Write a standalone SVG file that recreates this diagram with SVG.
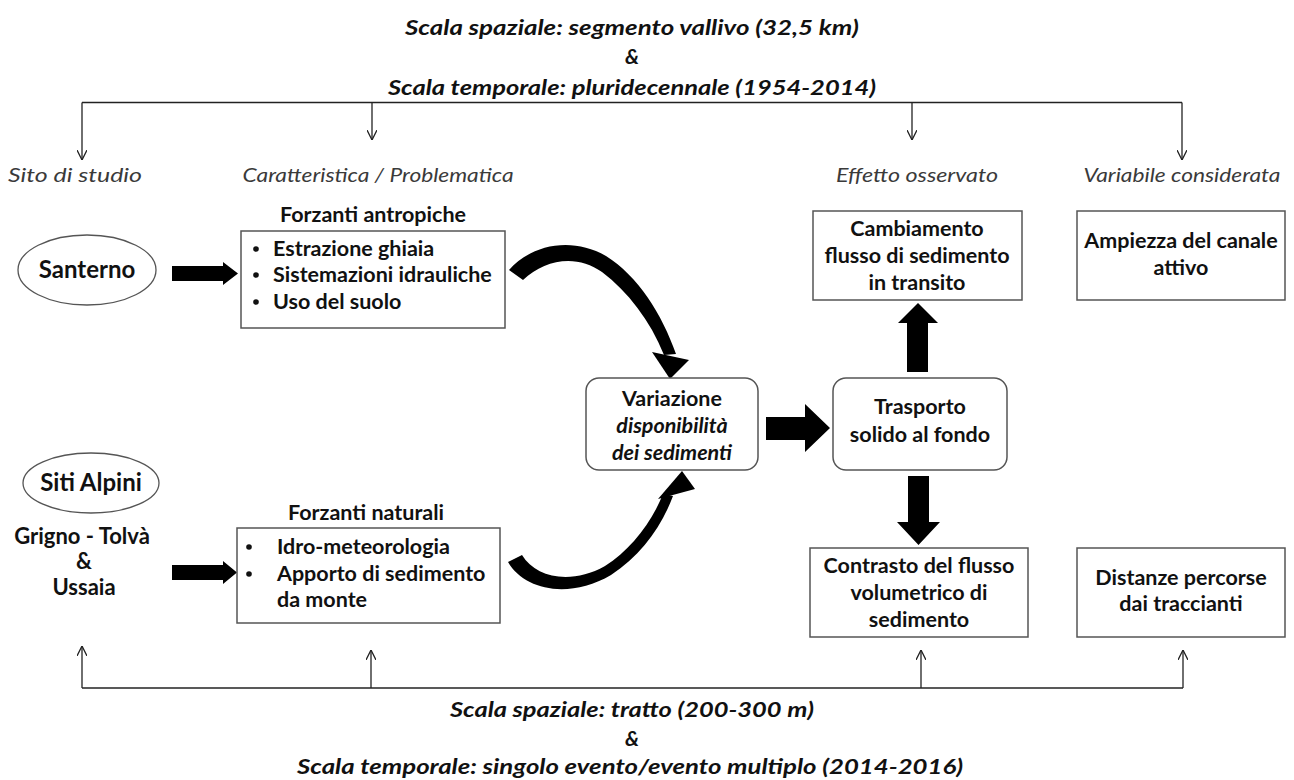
<svg xmlns="http://www.w3.org/2000/svg" width="1294" height="780" viewBox="0 0 1294 780">
<style>
text{font-family:Lato,"Open Sans","Liberation Sans",sans-serif;fill:#111}
.title{font-size:21px;font-weight:bold;font-style:italic;text-anchor:middle}
.cat{font-size:20px;font-style:italic;text-anchor:middle;fill:#3a3a3a}
.lbl{font-size:21.5px;font-weight:bold;text-anchor:middle}
.lbli{font-size:21.5px;font-weight:bold;font-style:italic;text-anchor:middle}
.bul{font-size:21.5px;font-weight:bold}
.big{font-size:22px;font-weight:bold;text-anchor:middle}
.ebig{font-size:24px;font-weight:bold;text-anchor:middle}
.box{fill:#fff;stroke:#555;stroke-width:1.5}
.ell{fill:#fff;stroke:#555;stroke-width:1.3}
.thin{fill:none;stroke:#222;stroke-width:1.3}
.blk{fill:#000;stroke:none}
.dot{fill:#111}
</style>
<defs>
<marker id="open" viewBox="0 0 10 10" refX="10" refY="5" markerWidth="10" markerHeight="10" markerUnits="userSpaceOnUse" orient="auto">
<path d="M0,0 L10,5 L0,10" fill="none" stroke="#222" stroke-width="1.3"/>
</marker>
</defs>

<g id="titles">
<text class="title" x="632" y="35" textLength="454" lengthAdjust="spacingAndGlyphs">Scala spaziale: segmento vallivo (32,5 km)</text>
<text class="title" x="632" y="64">&amp;</text>
<text class="title" x="632" y="95" textLength="488" lengthAdjust="spacingAndGlyphs">Scala temporale: pluridecennale (1954-2014)</text>
<text class="title" x="632" y="717" textLength="364" lengthAdjust="spacingAndGlyphs">Scala spaziale: tratto (200-300 m)</text>
<text class="title" x="632" y="746">&amp;</text>
<text class="title" x="630" y="774" textLength="666" lengthAdjust="spacingAndGlyphs">Scala temporale: singolo evento/evento multiplo (2014-2016)</text>
</g>

<g id="categories">
<text class="cat" x="75" y="182" textLength="134" lengthAdjust="spacingAndGlyphs">Sito di studio</text>
<text class="cat" x="378" y="182" textLength="271" lengthAdjust="spacingAndGlyphs">Caratteristica / Problematica</text>
<text class="cat" x="917" y="182" textLength="162" lengthAdjust="spacingAndGlyphs">Effetto osservato</text>
<text class="cat" x="1182" y="182" textLength="197" lengthAdjust="spacingAndGlyphs">Variabile considerata</text>
</g>

<g id="connectors">
<path class="thin" d="M82,102.5 H1182"/>
<path class="thin" d="M82,102.5 V160" marker-end="url(#open)"/>
<path class="thin" d="M372,102.5 V140" marker-end="url(#open)"/>
<path class="thin" d="M912,102.5 V140" marker-end="url(#open)"/>
<path class="thin" d="M1182,102.5 V160" marker-end="url(#open)"/>
<path class="thin" d="M82,688 H1183"/>
<path class="thin" d="M82,688 V646" marker-end="url(#open)"/>
<path class="thin" d="M371,688 V650" marker-end="url(#open)"/>
<path class="thin" d="M921,688 V650" marker-end="url(#open)"/>
<path class="thin" d="M1183,688 V650" marker-end="url(#open)"/>
<polygon class="blk" points="172,266 223,266 223,262 238,273.5 223,285 223,281 172,281"/>
<polygon class="blk" points="172,565 223,565 223,561 237,572.5 223,584 223,580 172,580"/>
<polygon class="blk" points="766,417 805,417 805,404 830,428 805,452 805,440 766,440"/>
<polygon class="blk" points="907,372 907,323 898,323 918,303 938,323 928,323 928,372"/>
<polygon class="blk" points="908,476 908,522 897,522 918.5,545 940,522 929,522 929,476"/>
<path class="blk" d="M509,270 C531,245 571,236 606,256 C638,276 662,314 676,354 L664,355 C650,320 628,292 602,272 C577,254 545,259 523,280 Z"/>
<polygon class="blk" points="652,352 689,360 670,379"/>
<path class="blk" d="M508,562 C525,591 570,599 611,575 C641,555 661,528 673,496 L663,494 C651,524 630,550 605,566 C571,585 536,578 522,555 Z"/>
<polygon class="blk" points="658,499 695,489 682,471"/>
</g>

<g id="santerno">
<ellipse class="ell" cx="87" cy="270" rx="69" ry="35"/>
<text class="ebig" x="87" y="278">Santerno</text>
</g>

<g id="siti-alpini">
<ellipse class="ell" cx="91" cy="483" rx="68" ry="30"/>
<text class="ebig" x="91" y="491">Siti Alpini</text>
<text class="big" x="82" y="544">Grigno - Tolvà</text>
<text class="big" x="84" y="569">&amp;</text>
<text class="big" x="84" y="595">Ussaia</text>
</g>

<g id="forzanti-antropiche">
<text class="lbl" x="373" y="222">Forzanti antropiche</text>
<rect class="box" x="241" y="231" width="264" height="97"/>
<circle class="dot" cx="256" cy="249" r="2.8"/><text class="bul" x="273" y="256">Estrazione ghiaia</text>
<circle class="dot" cx="256" cy="275" r="2.8"/><text class="bul" x="273" y="282">Sistemazioni idrauliche</text>
<circle class="dot" cx="256" cy="302" r="2.8"/><text class="bul" x="273" y="309">Uso del suolo</text>
</g>

<g id="forzanti-naturali">
<text class="lbl" x="366" y="520">Forzanti naturali</text>
<rect class="box" x="237" y="528" width="263" height="95"/>
<circle class="dot" cx="249" cy="547" r="2.8"/><text class="bul" x="277" y="554">Idro-meteorologia</text>
<circle class="dot" cx="249" cy="574" r="2.8"/><text class="bul" x="277" y="581">Apporto di sedimento</text>
<text class="bul" x="277" y="607">da monte</text>
</g>

<g id="variazione">
<rect class="box" x="586" y="378" width="172" height="92" rx="13"/>
<text class="lbl" x="672" y="406">Variazione</text>
<text class="lbli" x="672" y="433">disponibilità</text>
<text class="lbli" x="672" y="460">dei sedimenti</text>
</g>

<g id="trasporto">
<rect class="box" x="833" y="378" width="174" height="92" rx="13"/>
<text class="lbl" x="920" y="414">Trasporto</text>
<text class="lbl" x="920" y="442">solido al fondo</text>
</g>

<g id="cambiamento">
<rect class="box" x="813" y="211" width="209" height="89"/>
<text class="lbl" x="917" y="236">Cambiamento</text>
<text class="lbl" x="917" y="263">flusso di sedimento</text>
<text class="lbl" x="917" y="290">in transito</text>
</g>

<g id="ampiezza">
<rect class="box" x="1077" y="211" width="208" height="89"/>
<text class="lbl" x="1181" y="248">Ampiezza del canale</text>
<text class="lbl" x="1181" y="275">attivo</text>
</g>

<g id="contrasto">
<rect class="box" x="810" y="548" width="218" height="89"/>
<text class="lbl" x="919" y="573">Contrasto del flusso</text>
<text class="lbl" x="919" y="600">volumetrico di</text>
<text class="lbl" x="919" y="627">sedimento</text>
</g>

<g id="distanze">
<rect class="box" x="1077" y="548" width="208" height="89"/>
<text class="lbl" x="1181" y="585">Distanze percorse</text>
<text class="lbl" x="1181" y="611">dai traccianti</text>
</g>
</svg>
